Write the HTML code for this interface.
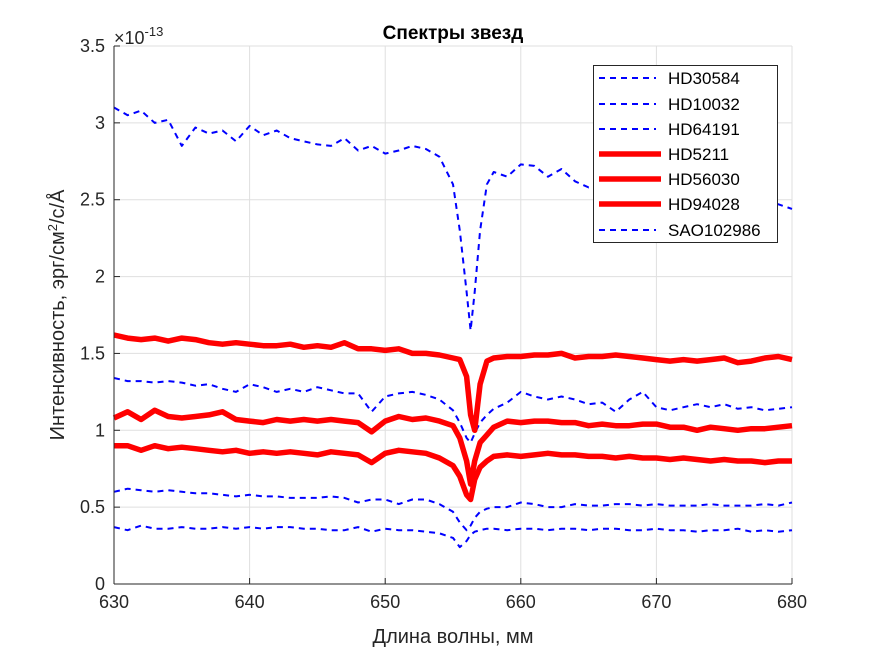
<!DOCTYPE html>
<html><head><meta charset="utf-8"><style>
body{margin:0;background:#fff}
svg{display:block;font-family:"Liberation Sans",sans-serif}
</style></head><body>
<svg id="c" width="875" height="656"></svg>
<script>
const xs=[630,631,632,633,634,635,636,637,638,639,640,641,642,643,644,645,646,647,648,649,650,651,652,653,654,655,655.5,656,656.3,656.6,657,657.5,658,659,660,661,662,663,664,665,666,667,668,669,670,671,672,673,674,675,676,677,678,679,680];
const seriesNames=["HD30584","HD10032","HD64191","HD5211","HD56030","HD94028","SAO102986"];
const sA=[3.1,3.05,3.08,3.0,3.02,2.85,2.97,2.93,2.95,2.88,2.98,2.92,2.95,2.9,2.88,2.86,2.85,2.9,2.82,2.85,2.8,2.82,2.85,2.83,2.78,2.6,2.3,1.9,1.65,1.9,2.3,2.6,2.68,2.65,2.73,2.72,2.65,2.7,2.62,2.58,2.6,2.55,2.55,2.53,2.52,2.52,2.5,2.5,2.5,2.5,2.49,2.5,2.48,2.47,2.44];
const sB=[1.34,1.32,1.32,1.31,1.32,1.31,1.29,1.3,1.27,1.25,1.3,1.28,1.25,1.27,1.25,1.28,1.26,1.24,1.24,1.12,1.22,1.24,1.25,1.23,1.2,1.13,1.05,0.95,0.92,0.98,1.05,1.1,1.14,1.18,1.25,1.22,1.2,1.22,1.2,1.17,1.18,1.12,1.2,1.25,1.15,1.13,1.15,1.17,1.15,1.17,1.14,1.15,1.13,1.14,1.15];
const sC=[0.6,0.62,0.61,0.6,0.61,0.6,0.59,0.59,0.58,0.57,0.58,0.57,0.57,0.56,0.56,0.56,0.57,0.56,0.53,0.55,0.55,0.52,0.55,0.55,0.52,0.47,0.4,0.35,0.38,0.43,0.47,0.49,0.5,0.5,0.53,0.52,0.5,0.5,0.52,0.51,0.51,0.52,0.52,0.51,0.52,0.51,0.51,0.51,0.52,0.51,0.51,0.51,0.52,0.51,0.53];
const sD=[1.62,1.6,1.59,1.6,1.58,1.6,1.59,1.57,1.56,1.57,1.56,1.55,1.55,1.56,1.54,1.55,1.54,1.57,1.53,1.53,1.52,1.53,1.5,1.5,1.49,1.47,1.46,1.35,1.1,1.0,1.3,1.45,1.47,1.48,1.48,1.49,1.49,1.5,1.47,1.48,1.48,1.49,1.48,1.47,1.46,1.45,1.46,1.45,1.46,1.47,1.44,1.45,1.47,1.48,1.46];
const sE=[1.08,1.12,1.07,1.13,1.09,1.08,1.09,1.1,1.12,1.07,1.06,1.05,1.07,1.06,1.07,1.06,1.07,1.06,1.05,0.99,1.06,1.09,1.07,1.08,1.06,1.03,0.95,0.8,0.65,0.8,0.92,0.97,1.02,1.06,1.05,1.06,1.06,1.05,1.05,1.03,1.04,1.03,1.03,1.04,1.04,1.02,1.02,1.0,1.02,1.01,1.0,1.01,1.01,1.02,1.03];
const sF=[0.9,0.9,0.87,0.9,0.88,0.89,0.88,0.87,0.86,0.87,0.85,0.86,0.85,0.86,0.85,0.84,0.86,0.85,0.84,0.79,0.85,0.87,0.86,0.85,0.82,0.77,0.7,0.58,0.55,0.68,0.76,0.8,0.83,0.84,0.83,0.84,0.85,0.84,0.84,0.83,0.83,0.82,0.83,0.82,0.82,0.81,0.82,0.81,0.8,0.81,0.8,0.8,0.79,0.8,0.8];
const sG=[0.37,0.35,0.38,0.36,0.36,0.37,0.36,0.36,0.37,0.36,0.37,0.36,0.37,0.37,0.36,0.36,0.35,0.35,0.37,0.34,0.36,0.35,0.35,0.34,0.33,0.3,0.24,0.28,0.32,0.34,0.35,0.36,0.36,0.35,0.36,0.36,0.35,0.36,0.36,0.35,0.36,0.36,0.35,0.35,0.36,0.35,0.35,0.34,0.35,0.35,0.36,0.34,0.35,0.34,0.35];
const xTicks=[630,640,650,660,670,680];
const yTicks=[0,0.5,1,1.5,2,2.5,3,3.5];

const L=114,R=792,T=46,B=584;
const sx=v=>L+(v-630)/(680-630)*(R-L);
const sy=v=>B-(v/3.5)*(B-T);
const svg=document.getElementById('c');
const NS='http://www.w3.org/2000/svg';
function mk(tag,attrs,parent){const e=document.createElementNS(NS,tag);for(const k in attrs)e.setAttribute(k,attrs[k]);(parent||svg).appendChild(e);return e;}

xTicks.forEach(t=>{const l=mk('line',{x1:sx(t),x2:sx(t),y1:T,y2:B,stroke:'#dfdfdf','stroke-width':1});

});
yTicks.forEach(t=>{const l=mk('line',{x1:L,x2:R,y1:sy(t),y2:sy(t),stroke:'#dfdfdf','stroke-width':1});

});

const styles=[
 {d:sA,c:'#0000ff',w:2,dash:'6 5'},
 {d:sB,c:'#0000ff',w:2,dash:'6 5'},
 {d:sC,c:'#0000ff',w:2,dash:'6 5'},
 {d:sD,c:'#ff0000',w:5.5,dash:''},
 {d:sE,c:'#ff0000',w:5.5,dash:''},
 {d:sF,c:'#ff0000',w:5.5,dash:''},
 {d:sG,c:'#0000ff',w:2,dash:'6 5'}];
styles.forEach((s,i)=>{
 const pts=s.d.map((v,j)=>sx(xs[j]).toFixed(1)+','+sy(v).toFixed(1)).join(' ');
 const p=mk('polyline',{points:pts,fill:'none',stroke:s.c,'stroke-width':s.w,'stroke-dasharray':s.dash,'stroke-linejoin':'round'});
 
 
});

const ax=mk('line',{x1:L,x2:L,y1:T,y2:B,stroke:'#262626','stroke-width':1});


const bx=mk('line',{x1:L,x2:R,y1:B,y2:B,stroke:'#262626','stroke-width':1});


xTicks.forEach(t=>{mk('line',{x1:sx(t),x2:sx(t),y1:B,y2:B-6,stroke:'#262626'});
 const tx=mk('text',{x:sx(t),y:B+24,'text-anchor':'middle','font-size':18,fill:'#262626'});tx.textContent=t;
 
 });
yTicks.forEach(t=>{mk('line',{x1:L,x2:L+6,y1:sy(t),y2:sy(t),stroke:'#262626'});
 const tx=mk('text',{x:L-9,y:sy(t)+6,'text-anchor':'end','font-size':18,fill:'#262626'});tx.textContent=t;
 
 });
</script>
<svg width="875" height="656" style="position:absolute;left:0;top:0;font-family:'Liberation Sans',sans-serif">
 <text x="453" y="39" text-anchor="middle" font-size="19" font-weight="bold" fill="#000">Спектры звезд</text>
 <text x="114" y="44" font-size="18" fill="#262626">×10<tspan dy="-8" font-size="13">-13</tspan></text>
 <text x="453" y="643" text-anchor="middle" font-size="20" fill="#262626">Длина волны, мм</text>
 <text transform="translate(64,315) rotate(-90)" text-anchor="middle" font-size="20" fill="#262626">Интенсивность, эрг/см<tspan dy="-7" font-size="13">2</tspan><tspan dy="7">/c/Å</tspan></text>
 <g>
  <rect x="593.5" y="65.5" width="184" height="177" fill="#fff" stroke="#262626"/>
  <g stroke="#0000ff" stroke-width="2" stroke-dasharray="6 5">
   <line x1="599" x2="656" y1="78" y2="78"/><line x1="599" x2="656" y1="104" y2="104"/><line x1="599" x2="656" y1="129" y2="129"/><line x1="599" x2="656" y1="230" y2="230"/>
  </g>
  <g stroke="#ff0000" stroke-width="5.5">
   <line x1="599" x2="661" y1="154" y2="154"/><line x1="599" x2="661" y1="179" y2="179"/><line x1="599" x2="661" y1="204" y2="204"/>
  </g>
  <g font-size="17" fill="#000">
   <text x="668" y="84">HD30584</text>
   <text x="668" y="110">HD10032</text>
   <text x="668" y="135">HD64191</text>
   <text x="668" y="160">HD5211</text>
   <text x="668" y="185">HD56030</text>
   <text x="668" y="210">HD94028</text>
   <text x="668" y="236">SAO102986</text>
  </g>
 </g>
</svg>
</body></html>
